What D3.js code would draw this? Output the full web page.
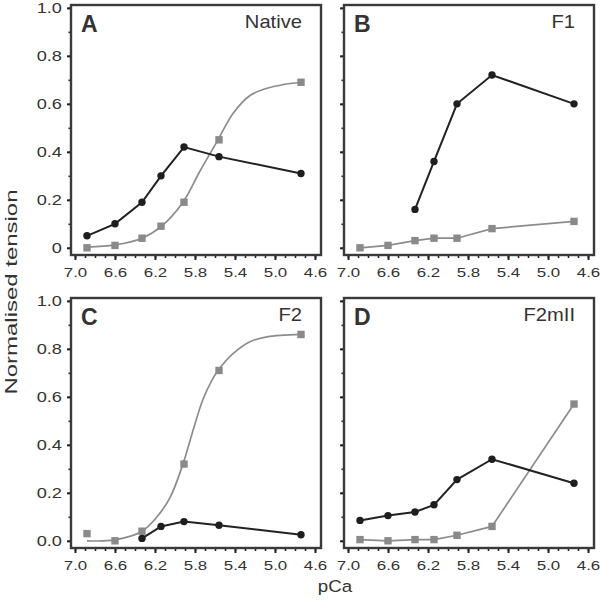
<!DOCTYPE html>
<html>
<head>
<meta charset="utf-8">
<script src="https://cdn.jsdelivr.net/npm/d3@7"></script>
<style>
  body { margin: 0; background: #fff; }
  text { font-family: "Liberation Sans", Arial, sans-serif; fill: #333; }
</style>
</head>
<body>
<div id="viz"></div>
<script>
// pCa steps used in every panel
var pCa = [6.88, 6.60, 6.33, 6.14, 5.91, 5.56, 4.74];

// A - Native
var nativeBlack = [0.05, 0.10, 0.19, 0.30, 0.42, 0.38, 0.31];
var nativeGrey  = [0.00, 0.01, 0.04, 0.09, 0.19, 0.45, 0.69];
// fitted curve
var nativeFitX = [6.88, 6.60, 6.33, 6.14, 5.92, 5.75, 5.57, 5.42, 5.25, 5.08, 4.92, 4.74];
var nativeFitY = [0.003, 0.012, 0.04, 0.088, 0.19, 0.32, 0.45, 0.56, 0.635, 0.665, 0.68, 0.69];

// B - F1
var f1Black = [null, null, 0.16, 0.36, 0.60, 0.72, 0.60];
var f1Grey  = [0.00, 0.01, 0.03, 0.04, 0.04, 0.08, 0.11];

// C - F2
var f2Black = [null, null, 0.01, 0.06, 0.08, 0.065, 0.025];
var f2Grey  = [0.03, 0.00, 0.04, null, 0.32, 0.71, 0.86];
var f2FitX = [6.88, 6.60, 6.33, 6.18, 6.05, 5.92, 5.82, 5.72, 5.63, 5.57, 5.42, 5.25, 5.08, 4.74];
var f2FitY = [0.0, 0.004, 0.04, 0.10, 0.18, 0.32, 0.46, 0.59, 0.67, 0.71, 0.78, 0.83, 0.85, 0.86];

// D - F2mII
var f2m2Black = [0.085, 0.105, 0.12, 0.15, 0.255, 0.34, 0.24];
var f2m2Grey  = [0.005, 0.00, 0.005, 0.005, 0.023, 0.06, 0.57];

var xTicks = [7.0, 6.6, 6.2, 5.8, 5.4, 5.0, 4.6];
var yTicks = [0, 0.2, 0.4, 0.6, 0.8, 1.0];
var letters = ["A", "B", "C", "D"];
var names = ["Native", "F1", "F2", "F2mII"];

var panels = [
  {col: 0, row: 0, black: nativeBlack, grey: nativeGrey, fitX: nativeFitX, fitY: nativeFitY},
  {col: 1, row: 0, black: f1Black, grey: f1Grey},
  {col: 0, row: 1, black: f2Black, grey: f2Grey, fitX: f2FitX, fitY: f2FitY},
  {col: 1, row: 1, black: f2m2Black, grey: f2m2Grey}
];

var margin = {left: 71, top: 5},
    panelW = 250, panelH = 250,
    colStep = 273, rowStep = 293;

var svg = d3.select("#viz").append("svg")
  .attr("width", 600)
  .attr("height", 605);

var x = d3.scaleLinear().domain([7.04, 4.54]).range([0, panelW]);
var y = d3.scaleLinear().domain([-0.03, 1.012]).range([panelH, 0]);

var xMinor = d3.range(46, 71).map(function(v){ return v / 10; });
var yMinor = d3.range(0, 11).map(function(v){ return v / 10; });

var line = d3.line()
  .defined(function(d){ return d[1] != null; })
  .x(function(d){ return x(d[0]); })
  .y(function(d){ return y(d[1]); });

var fitLine = d3.line()
  .x(function(d){ return x(d[0]); })
  .y(function(d){ return y(d[1]); })
  .curve(d3.curveCatmullRom.alpha(0.5));

function pairs(xs, ys){
  return xs.map(function(v, i){ return [v, ys[i]]; });
}

function styleTicks(sel, w){
  sel.select(".domain").remove();
  sel.selectAll(".tick line").attr("stroke", "#222").attr("stroke-width", w);
}

panels.forEach(function(p, i){
  var g = svg.append("g")
    .attr("transform", "translate(" + (margin.left + p.col * colStep) + "," + (margin.top + p.row * rowStep) + ")");

  // x axis: minor then major ticks
  g.append("g")
    .attr("transform", "translate(0," + panelH + ")")
    .call(d3.axisBottom(x).tickValues(xMinor).tickSize(3).tickFormat(""))
    .call(styleTicks, 1.6);

  var xa = g.append("g")
    .attr("transform", "translate(0," + panelH + ")")
    .call(d3.axisBottom(x).tickValues(xTicks).tickSize(5).tickFormat(d3.format(".1f")))
    .call(styleTicks, 2);
  xa.selectAll("text")
    .attr("y", 12.5)
    .attr("font-size", "13px")
    .attr("transform", "scale(1.3,1)");

  // y axis
  g.append("g")
    .call(d3.axisLeft(y).tickValues(yMinor).tickSize(2.5).tickFormat(""))
    .call(styleTicks, 1.6);

  var yFmt = p.row == 0
    ? function(d){ return d === 0 ? "0" : d3.format(".1f")(d); }
    : d3.format(".1f");
  var ya = g.append("g")
    .call(d3.axisLeft(y).tickValues(yTicks).tickSize(4).tickFormat(p.col == 0 ? yFmt : ""))
    .call(styleTicks, 2);
  ya.selectAll("text")
    .attr("x", -7)
    .attr("font-size", "14px")
    .attr("transform", "scale(1.3,1)");

  // frame
  g.append("rect")
    .attr("width", panelW)
    .attr("height", panelH)
    .attr("fill", "none")
    .attr("stroke", "#3a3a3a")
    .attr("stroke-width", 2.4);

  var greyPts = pairs(pCa, p.grey).filter(function(d){ return d[1] != null; });
  var blackPts = pairs(pCa, p.black);

  // grey series: fitted curve or straight segments
  g.append("path")
    .attr("d", p.fitX ? fitLine(pairs(p.fitX, p.fitY)) : line(greyPts))
    .attr("fill", "none")
    .attr("stroke", "#8c8c8c")
    .attr("stroke-width", 1.7);

  g.selectAll(".sq")
    .data(greyPts)
    .enter()
  .append("rect")
    .attr("x", function(d){ return x(d[0]) - 3.7; })
    .attr("y", function(d){ return y(d[1]) - 3.7; })
    .attr("width", 7.4)
    .attr("height", 7.4)
    .attr("fill", "#8a8a8a");

  g.append("path")
    .attr("d", line(blackPts))
    .attr("fill", "none")
    .attr("stroke", "#222")
    .attr("stroke-width", 2);

  g.selectAll(".dot")
    .data(blackPts.filter(function(d){ return d[1] != null; }))
    .enter()
  .append("circle")
    .attr("cx", function(d){ return x(d[0]); })
    .attr("cy", function(d){ return y(d[1]); })
    .attr("r", 3.7)
    .attr("fill", "#1e1e1e");

  // panel letter and name
  g.append("text")
    .attr("x", 10)
    .attr("y", 27)
    .attr("font-size", "23px")
    .attr("font-weight", "bold")
    .text(letters[i]);

  g.append("text")
    .attr("transform", "translate(" + (panelW - 19) + ",23) scale(1.12,1)")
    .attr("text-anchor", "end")
    .attr("font-size", "18px")
    .text(names[i]);
});

svg.append("text")
  .attr("transform", "translate(17,292) rotate(-90)")
  .attr("text-anchor", "middle")
  .attr("font-size", "17px")
  .attr("textLength", 205)
  .attr("lengthAdjust", "spacingAndGlyphs")
  .text("Normalised tension");

svg.append("text")
  .attr("transform", "translate(335,592) scale(1.1,1)")
  .attr("text-anchor", "middle")
  .attr("font-size", "17px")
  .text("pCa");
</script>
</body>
</html>
